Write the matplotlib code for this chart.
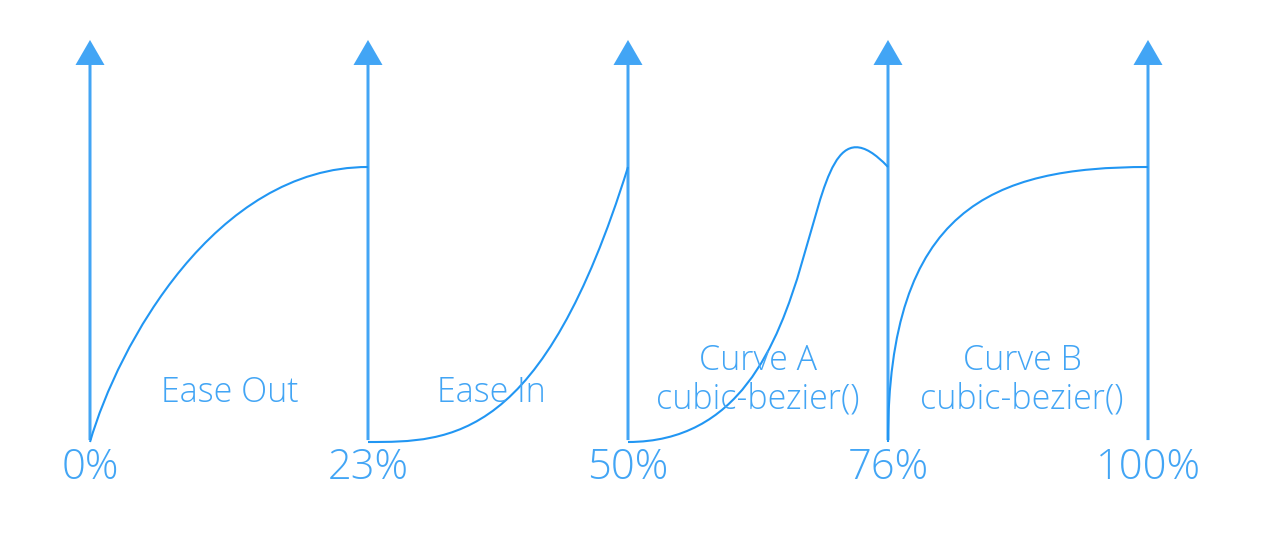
import matplotlib
matplotlib.use("Agg")
import matplotlib.pyplot as plt
from matplotlib.path import Path
from matplotlib.patches import PathPatch, FancyArrow

# ---- data ----
axis_positions = [0, 278, 538, 798, 1058]          # timeline positions of the keyframe arrows
axis_labels = ["0%", "23%", "50%", "76%", "100%"]
curve_names = ["Ease Out", "Ease In", "Curve A\ncubic-bezier()", "Curve B\ncubic-bezier()"]
# cubic-bezier control points (x1, y1, x2, y2) of each segment
curve_ctrl = [
    (0.10, 0.35, 0.45, 1.00),
    (0.32, 0.00, 0.67, 0.00),
    (0.85, 0.00, 0.60, 1.40),
    (0.00, 0.85, 0.40, 1.00),
]
label_offsets_x = [140, 401, 668, 932]
label_y = [0.18, 0.18, 0.225, 0.225]

ARROW = "#42A5F5"
CURVE = "#2196F3"
TEXT = "#42A5F5"

fig = plt.figure(figsize=(12.8, 5.38), dpi=100)
ax = fig.add_axes([0, 0, 1, 1])
ax.set_xlim(-90, 1190)
ax.set_ylim(-96 / 275, 442 / 275)
ax.axis("off")

family = ["Open Sans", "DejaVu Sans"]

for x, lab in zip(axis_positions, axis_labels):
    ax.add_patch(FancyArrow(x, 0.007, 0, 1.462 - 0.007, width=3, head_width=29,
                            head_length=0.091, length_includes_head=True,
                            color=ARROW, lw=0, zorder=2))
    ax.text(x, -0.095, lab, ha="center", va="center", fontsize=30, color=TEXT,
            family=family, fontweight="light")

codes = [Path.MOVETO, Path.CURVE4, Path.CURVE4, Path.CURVE4]
for i, (x1, y1, x2, y2) in enumerate(curve_ctrl):
    a, b = axis_positions[i], axis_positions[i + 1]
    w = b - a
    verts = [(a, 0), (a + x1 * w, y1), (a + x2 * w, y2), (b, 1)]
    ax.add_patch(PathPatch(Path(verts, codes), fill=False, edgecolor=CURVE,
                           lw=1.5, zorder=3))

for name, lx, ly in zip(curve_names, label_offsets_x, label_y):
    ax.text(lx, ly, name, ha="center", va="center", fontsize=24.5, color=TEXT,
            family=family, fontweight="light", linespacing=1.15)

fig.savefig("out.png", dpi=100)
